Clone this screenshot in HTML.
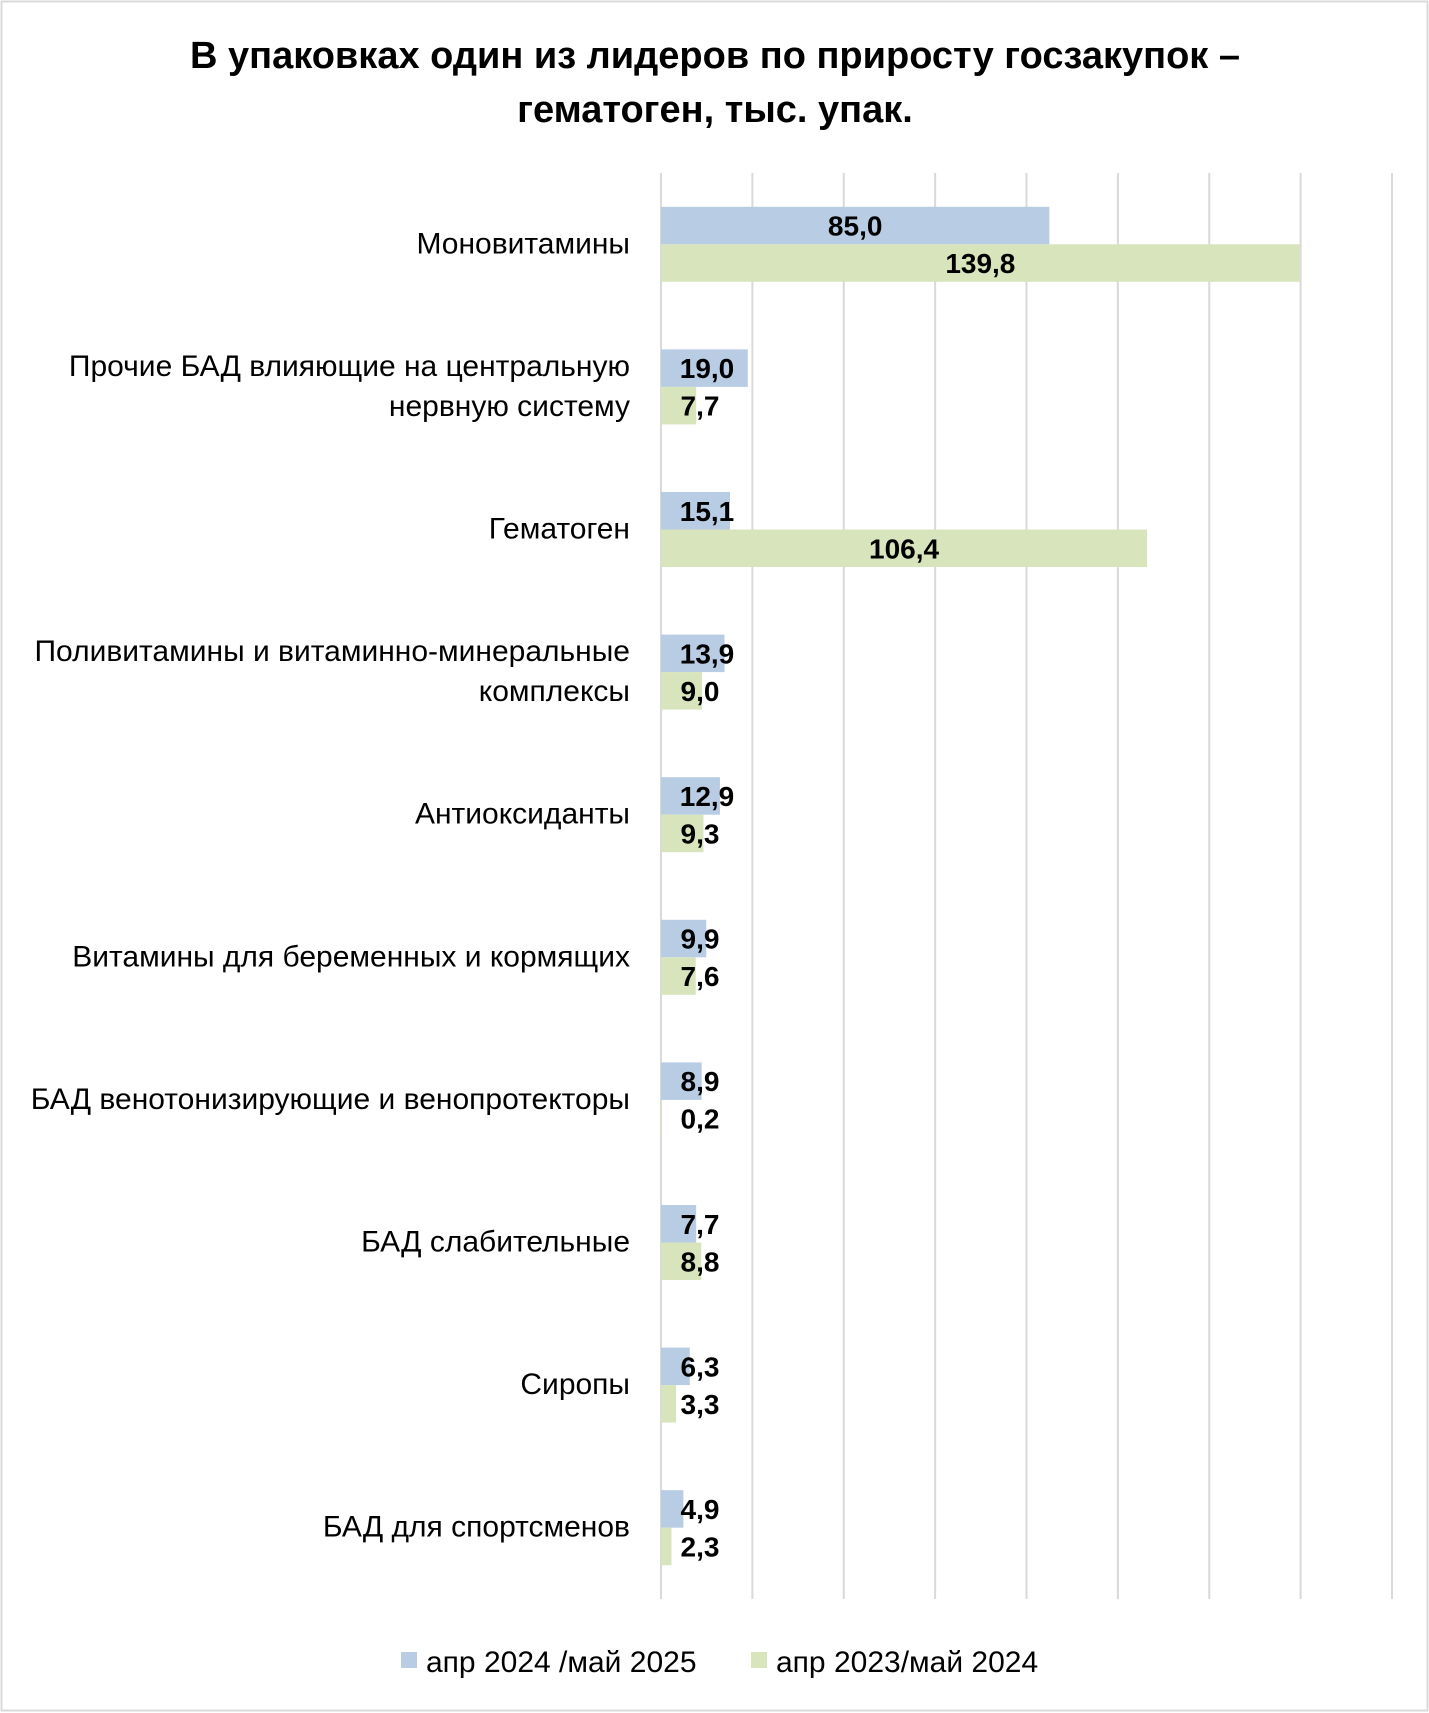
<!DOCTYPE html>
<html><head><meta charset="utf-8"><style>
body{margin:0;background:#fff;}
svg{display:block;font-family:"Liberation Sans","Noto Sans CJK SC",sans-serif;}
</style></head><body>
<svg id="chart" width="1429" height="1713" viewBox="0 0 1429 1713">
<rect x="1.5" y="1.5" width="1426" height="1709" fill="#fff" stroke="#d9d9d9" stroke-width="2"/>
<text x="715" y="68" text-anchor="middle" font-size="38" font-weight="bold">В упаковках один из лидеров по приросту госзакупок –</text>
<text x="715" y="122" text-anchor="middle" font-size="38" font-weight="bold">гематоген, тыс. упак.</text>
<g id="grid"></g><g id="bars"></g><g id="labels"></g>
<rect x="401" y="1652" width="16" height="16" fill="#b8cce4"/>
<text x="426" y="1672" font-size="30">апр 2024 /май 2025</text>
<rect x="751" y="1652" width="16" height="16" fill="#d8e4bc"/>
<text x="776" y="1672" font-size="30">апр 2023/май 2024</text>
</svg>
<script>
const categories=[["Моновитамины"],["Прочие БАД влияющие на центральную","нервную систему"],["Гематоген"],["Поливитамины и витаминно-минеральные","комплексы"],["Антиоксиданты"],["Витамины для беременных и кормящих"],["БАД венотонизирующие и венопротекторы"],["БАД слабительные"],["Сиропы"],["БАД для спортсменов"]];
const series2025=[85.0,19.0,15.1,13.9,12.9,9.9,8.9,7.7,6.3,4.9];
const series2024=[139.8,7.7,106.4,9.0,9.3,7.6,0.2,8.8,3.3,2.3];
const ticks=[0,20,40,60,80,100,120,140,160];
const NS="http://www.w3.org/2000/svg";
const x0=661,xMax=1392,vMax=160,yTop=173,yBot=1599,band=142.6,bh=37.5;
const xs=v=>x0+(xMax-x0)*v/vMax;
const yc=i=>yTop+band*(i+0.5);
function mk(tag,attrs,parent){const e=document.createElementNS(NS,tag);for(const k in attrs)e.setAttribute(k,attrs[k]);document.getElementById(parent).appendChild(e);return e;}
ticks.forEach(t=>{
 const l=mk('line',{x1:xs(t),x2:xs(t),y1:yTop,y2:yBot,stroke:'#d9d9d9','stroke-width':2},'grid');
 
 
});
const fmt=v=>v.toFixed(1).replace('.',',');
function bar(v,y,color,name){
 const r=mk('rect',{x:x0,y:y,width:Math.max(0,xs(v)-x0),height:bh,fill:color},'bars');
 
 
 const s=fmt(v);const w=s.length*14;
 const cx=Math.max((x0+xs(v))/2,x0+18+w/2);
 const t=mk('text',{x:cx,y:y+bh/2+10,'text-anchor':'middle','font-size':28,'font-weight':'bold'},'labels');
 t.textContent=s;
 
 
}
categories.forEach((c,i)=>{
 const y=yc(i);
 bar(series2025[i],y-bh,'#b8cce4','bar-2025-'+i);
 bar(series2024[i],y,'#d8e4bc','bar-2024-'+i);
 c.forEach((line,j)=>{
  const t=mk('text',{x:630,y:y+9+(j-(c.length-1)/2)*40,'text-anchor':'end','font-size':30},'labels');
  t.textContent=line;
  
  
 });
});
</script>
</body></html>
